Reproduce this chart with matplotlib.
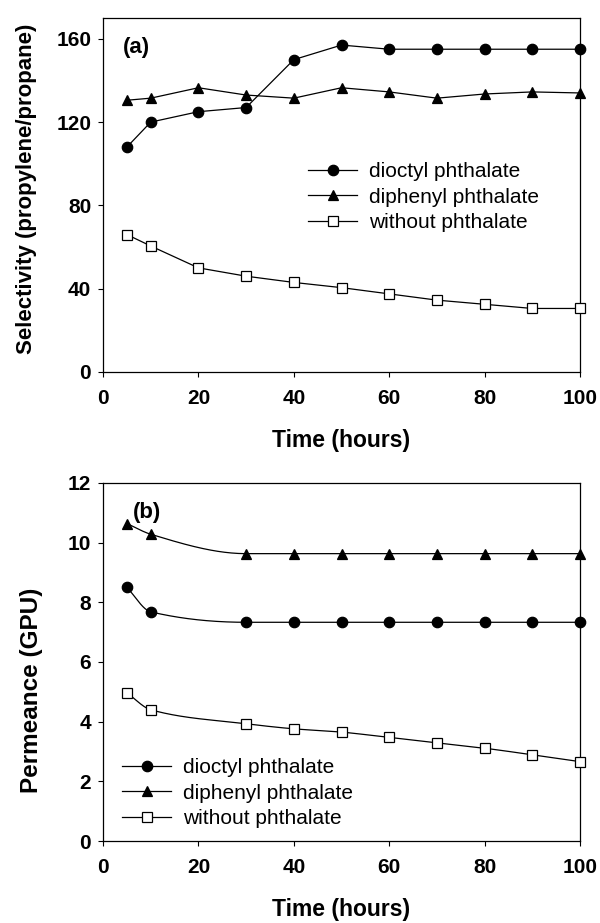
import numpy as np
import matplotlib
matplotlib.use('Agg')
import matplotlib.pyplot as plt

plt.rcParams['font.family'] = ['Liberation Sans', 'DejaVu Sans']

# selectivity data, panel (a)
time_a = [5, 10, 20, 30, 40, 50, 60, 70, 80, 90, 100]
sel_dioctyl = [108, 120, 125, 127, 150, 157, 155, 155, 155, 155, 155]
sel_diphenyl = [130.5, 131.5, 136.5, 133, 131.5, 136.5, 134.5, 131.5, 133.5, 134.5, 134]
sel_without = [66, 60.5, 50, 46, 43, 40.5, 37.5, 34.5, 32.5, 30.5, 30.5]

# permeance data, panel (b)
time_b = [5, 10, 30, 40, 50, 60, 70, 80, 90, 100]
perm_dioctyl = [8.5, 7.68, 7.33, 7.33, 7.33, 7.33, 7.33, 7.33, 7.33, 7.33]
perm_diphenyl = [10.64, 10.28, 9.63, 9.63, 9.63, 9.63, 9.63, 9.63, 9.63, 9.63]
perm_without = [4.97, 4.4, 3.93, 3.76, 3.65, 3.47, 3.29, 3.11, 2.89, 2.66]

labels = ['dioctyl phthalate', 'diphenyl phthalate', 'without phthalate']


def smooth_line(x, y, n=400):
    # monotone cubic (Fritsch-Carlson) so the connecting curve doesn't overshoot
    x = np.asarray(x, float)
    y = np.asarray(y, float)
    h = np.diff(x)
    d = np.diff(y) / h
    m = np.zeros_like(y)
    m[0], m[-1] = d[0], d[-1]
    for i in range(1, len(x) - 1):
        if d[i - 1] * d[i] > 0:
            w1 = 2 * h[i] + h[i - 1]
            w2 = h[i] + 2 * h[i - 1]
            m[i] = (w1 + w2) / (w1 / d[i - 1] + w2 / d[i])
    xs = np.linspace(x[0], x[-1], n)
    i = np.clip(np.searchsorted(x, xs) - 1, 0, len(x) - 2)
    t = (xs - x[i]) / h[i]
    h00 = 2 * t**3 - 3 * t**2 + 1
    h10 = t**3 - 2 * t**2 + t
    h01 = -2 * t**3 + 3 * t**2
    h11 = t**3 - t**2
    ys = h00 * y[i] + h10 * h[i] * m[i] + h01 * y[i + 1] + h11 * h[i] * m[i + 1]
    return xs, ys


fig = plt.figure(figsize=(6.0, 9.23), dpi=100)
ax1 = fig.add_axes([0.1717, 0.597, 0.795, 0.3835])
ax2 = fig.add_axes([0.1717, 0.0888, 0.795, 0.388])

styles = [dict(marker='o', mfc='black', ms=7.5),
          dict(marker='^', mfc='black', ms=7.5),
          dict(marker='s', mfc='white', ms=6.5)]

for ys, st, lab in zip([sel_dioctyl, sel_diphenyl, sel_without], styles, labels):
    ax1.plot(time_a, ys, color='black', lw=0.9, mec='black', mew=0.9,
             label=lab, clip_on=False, zorder=3, **st)

for ys, st, lab in zip([perm_dioctyl, perm_diphenyl, perm_without], styles, labels):
    xs, yy = smooth_line(time_b, ys)
    ax2.plot(xs, yy, color='black', lw=0.9, zorder=2)
    ax2.plot(time_b, ys, color='black', lw=0.9, ls='none', mec='black', mew=0.9,
             clip_on=False, zorder=3, **st)
    ax2.plot([], [], color='black', lw=0.9, mec='black', mew=0.9, label=lab, **st)

ax1.set_xlim(0, 100)
ax1.set_ylim(0, 170)
ax1.set_yticks([0, 40, 80, 120, 160])
ax2.set_xlim(0, 100)
ax2.set_ylim(0, 12)
ax2.set_yticks([0, 2, 4, 6, 8, 10, 12])

for ax in (ax1, ax2):
    ax.set_xticks([0, 20, 40, 60, 80, 100])
    ax.tick_params(axis='both', direction='out', length=3.5, width=0.8, labelsize=15)
    ax.tick_params(axis='x', pad=9)
    ax.tick_params(axis='y', pad=5)
    for lbl in ax.get_xticklabels() + ax.get_yticklabels():
        lbl.set_fontweight('bold')
    for sp in ax.spines.values():
        sp.set_linewidth(0.9)
    ax.set_xlabel('Time (hours)', fontsize=16.5, fontweight='bold', labelpad=15)

ax1.set_ylabel('Selectivity (propylene/propane)', fontsize=16, fontweight='bold')
ax2.set_ylabel('Permeance (GPU)', fontsize=17.5, fontweight='bold')
# label anchor is the right edge of the rotated text
ax1.yaxis.set_label_coords(-0.138, 0.517)
ax2.yaxis.set_label_coords(-0.126, 0.42)

ax1.text(0.042, 0.918, '(a)', transform=ax1.transAxes, fontsize=16,
         fontweight='bold', va='center', ha='left')
ax2.text(0.063, 0.916, '(b)', transform=ax2.transAxes, fontsize=16,
         fontweight='bold', va='center', ha='left')

leg_kw = dict(frameon=False, fontsize=15, handlelength=2.35, handletextpad=0.58,
              labelspacing=0.3, borderpad=0, borderaxespad=0)
ax1.legend(loc='center left', bbox_to_anchor=(0.43, 0.494), **leg_kw)
ax2.legend(loc='center left', bbox_to_anchor=(0.04, 0.134), **leg_kw)

fig.savefig('out.png', dpi=100)
